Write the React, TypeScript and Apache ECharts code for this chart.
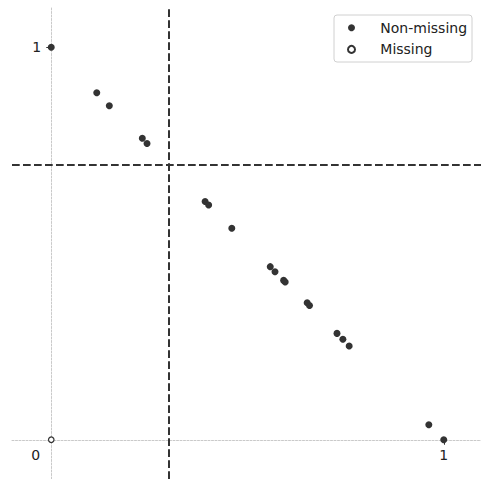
import React, { useEffect, useRef } from "react";
import * as echarts from "echarts";

const nonMissingX = [0, 0.116, 0.148, 0.232, 0.244, 0.392, 0.401, 0.46, 0.558, 0.57, 0.592, 0.596, 0.652, 0.658, 0.728, 0.743, 0.759, 0.962, 1];
const nonMissingY = [1, 0.884, 0.851, 0.768, 0.755, 0.607, 0.598, 0.539, 0.441, 0.428, 0.406, 0.402, 0.349, 0.342, 0.271, 0.256, 0.239, 0.038, 0];
const missingX = [0];
const missingY = [0];
const thresholdX = [0.3];
const thresholdY = [0.7];
const xLabelValues = [0, 1];
const yLabelValues = [1];
const tickValues = [1];
const seriesNames = ["Non-missing", "Missing"];

const FONT = "DejaVu Sans";
const DARK = "#333333";
const AXIS_MIN = -0.1;
const AXIS_MAX = 1.1;
const GRID = { left: 12, top: 8, width: 471, height: 471 };

export default function App() {
  const ref = useRef<HTMLDivElement>(null);
  useEffect(() => {
    if (!ref.current) return;
    const chart = echarts.init(ref.current, null, { renderer: "svg" });
    const axisLine = {
      show: true,
      onZero: false,
      lineStyle: { color: "#bbbbbb", width: 0.8, type: [2, 1.5] },
    };
    // shift axes so that they sit on the zero lines
    const zeroFrac = (0 - AXIS_MIN) / (AXIS_MAX - AXIS_MIN);
    const xOffset = -zeroFrac * GRID.height;
    const yOffset = -zeroFrac * GRID.width;
    chart.setOption({
      animation: false,
      backgroundColor: "#ffffff",
      textStyle: { fontFamily: FONT },
      grid: {
        ...GRID,
        containLabel: false,
        outerBoundsMode: "none",
      },
      legend: {
        orient: "vertical",
        left: 334,
        top: 15,
        data: seriesNames,
        itemWidth: 14,
        itemHeight: 7,
        itemGap: 5.7,
        padding: [4.7, 5, 4.6, 13],
        borderColor: "#d0d0d0",
        borderWidth: 1,
        borderRadius: 3,
        backgroundColor: "#ffffff",
        textStyle: {
          fontFamily: FONT,
          fontSize: 14,
          color: "#222222",
          lineHeight: 16,
          padding: [0, 0, 0, 16.8],
        },
      },
      xAxis: {
        type: "value",
        position: "bottom",
        offset: xOffset,
        min: AXIS_MIN,
        max: AXIS_MAX,
        axisLine,
        splitLine: { show: false },
        axisTick: {
          show: true,
          customValues: tickValues,
          length: 5,
          lineStyle: { color: DARK, width: 1 },
        },
        axisLabel: {
          show: true,
          customValues: xLabelValues,
          margin: 8,
          fontFamily: FONT,
          fontSize: 14,
          color: "#222222",
          formatter: (v: number) => (v === 0 ? "{z|0}" : String(v)),
          rich: {
            z: { fontFamily: FONT, fontSize: 14, color: "#222222", padding: [0, 31, 0, 0] },
          },
        },
      },
      yAxis: {
        type: "value",
        position: "left",
        offset: yOffset,
        min: AXIS_MIN,
        max: AXIS_MAX,
        axisLine,
        splitLine: { show: false },
        axisTick: {
          show: true,
          customValues: tickValues,
          length: 5,
          lineStyle: { color: DARK, width: 1 },
        },
        axisLabel: {
          show: true,
          customValues: yLabelValues,
          margin: 10,
          fontFamily: FONT,
          fontSize: 14,
          color: "#222222",
        },
      },
      series: [
        {
          name: seriesNames[0],
          type: "scatter",
          symbol: "circle",
          symbolSize: 7,
          itemStyle: { color: DARK, opacity: 1 },
          data: nonMissingX.map((x, i) => [x, nonMissingY[i]]),
          z: 5,
          markLine: {
            silent: true,
            symbol: ["none", "none"],
            label: { show: false },
            lineStyle: { color: DARK, width: 2, type: [7.7, 3.3] },
            data: [
              ...thresholdX.map((v) => ({ xAxis: v })),
              ...thresholdY.map((v) => ({ yAxis: v })),
            ],
            z: 3,
          },
        },
        {
          name: seriesNames[1],
          type: "scatter",
          symbol: "circle",
          symbolSize: 5.5,
          itemStyle: { color: "#ffffff", borderColor: DARK, borderWidth: 1.2, opacity: 1 },
          data: missingX.map((x, i) => [x, missingY[i]]),
          z: 5,
        },
      ],
    });
    return () => chart.dispose();
  }, []);
  return (
    <div
      ref={ref}
      style={{ position: "fixed", left: 0, top: 0, width: 481, height: 479 }}
    />
  );
}
